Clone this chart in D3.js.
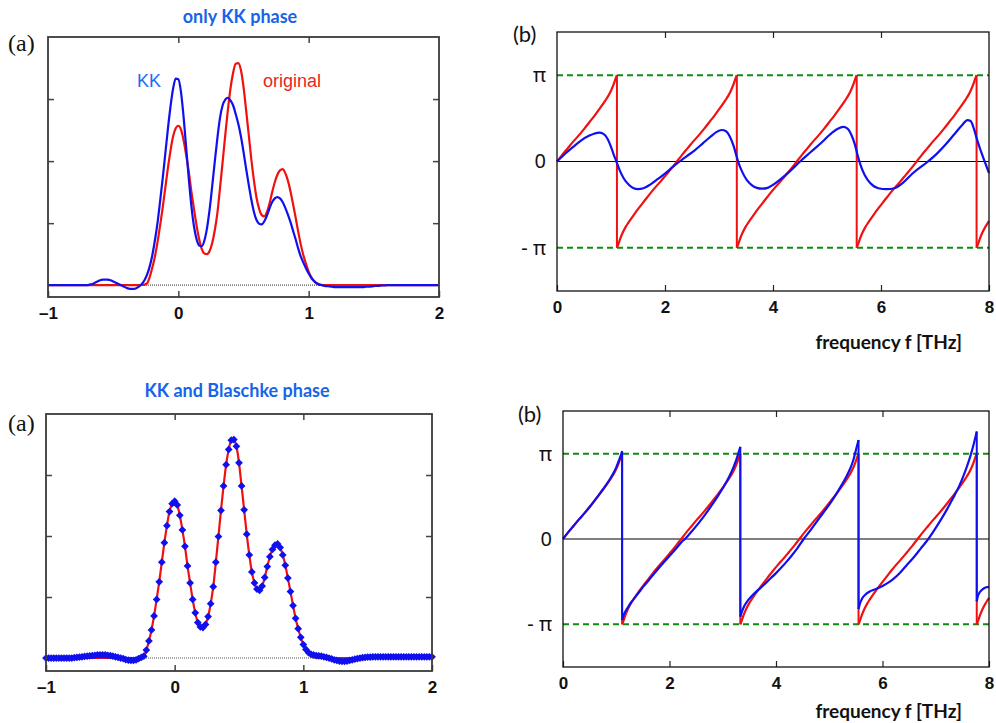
<!DOCTYPE html>
<html>
<head>
<meta charset="utf-8">
<script src="https://cdn.jsdelivr.net/npm/d3@7/dist/d3.min.js"></script>
<style>
  body { margin: 0; background: #fff; }
  svg { display: block; }
  .num text { font-family: 'Liberation Sans Narrow', 'Liberation Sans', Arial, sans-serif; font-weight: bold; font-size: 17px; fill: #111; }
  .pi text { font-family: 'Noto Sans', 'Lato', sans-serif; font-size: 20px; fill: #111; }
</style>
</head>
<body>
<svg id="chart" width="996" height="723"></svg>
<script>
// amplitude curves sampled every 0.02 from -1 to 2 (tick units, 0 = baseline)
var ampStart = -1, ampStep = 0.02;

var originalAmp = [
  0,0,0,0,0,0,0,0,0,0,0,0,0,0,0,0,0,0,0,0,0,0,0,0,0,0,0,0,0,0,0,0,0,0,0,0,
  0.005,0.01,
  0.03,0.13,0.28,0.46,0.69,0.96,1.25,1.57,1.89,2.17,2.40,2.53,2.57,2.51,2.34,2.10,1.83,1.51,1.23,0.96,
  0.74,0.58,0.51,0.50,0.55,0.68,0.89,1.17,1.57,1.99,2.42,2.82,3.17,3.42,3.57,3.58,3.47,3.20,2.82,2.43,
  2.03,1.69,1.41,1.23,1.13,1.11,1.18,1.32,1.50,1.66,1.78,1.85,1.87,1.81,1.69,1.52,1.31,1.09,0.86,0.65,
  0.48,0.34,0.22,0.13,0.07,0.035,0.015,0.005,
  0,0,0,0,0,0,0,0,0,0,0,0,0,0,0,0,0,0,0,0,0,0,0,0,0,0,0,0,0,0,0,0,0,0,0,0,0,0,0,0,0,0,0,0,0
];

var kkAmp = [
  0,0,0,0,0,0,0,0,0,0,0,0,0,0,0,0,
  0.01,0.02,0.04,0.06,0.08,0.09,0.09,0.09,0.08,0.06,0.04,0.02,0.00,-0.02,-0.04,-0.055,-0.06,-0.06,-0.045,-0.02,0.02,
  0.08,0.17,0.30,0.48,0.72,1.00,1.35,1.72,2.12,2.52,2.88,3.17,3.33,3.32,3.12,2.72,2.22,1.72,1.28,0.95,
  0.74,0.64,0.63,0.72,0.92,1.22,1.60,2.00,2.38,2.70,2.90,2.99,3.02,
  2.98,2.90,2.76,2.60,2.40,2.15,1.88,1.62,1.38,1.18,1.05,0.99,0.98,1.03,1.12,1.24,1.34,1.40,1.42,1.40,
  1.34,1.25,1.14,1.02,0.88,0.74,0.59,0.46,0.36,0.27,0.19,0.12,0.07,0.03,
  0.01,0.0,-0.01,-0.015,-0.02,-0.025,-0.03,
  -0.03,-0.03,-0.03,-0.03,-0.03,-0.03,-0.03,-0.03,-0.03,-0.03,
  -0.03,-0.025,-0.025,-0.02,-0.015,-0.01,-0.01,-0.005,-0.005,
  0,0,0,0,0,0,0,0,0,0,0,0,0,0,0,0,0,0,0,0,0
];

var blaschkeAmp = [
  0,0,0,0,0,0,0,0,0,0,0,
  0.005,0.01,0.015,0.02,0.025,0.03,0.035,0.04,0.045,0.05,0.05,0.05,0.05,0.045,0.04,0.03,0.02,0.01,0.0,
  -0.01,-0.025,-0.035,-0.04,-0.04,-0.03,-0.01,0.01,
  0.03,0.13,0.28,0.46,0.69,0.96,1.25,1.57,1.89,2.17,2.40,2.53,2.57,2.51,2.34,2.10,1.83,1.51,1.23,0.96,
  0.74,0.58,0.51,0.50,0.55,0.68,0.89,1.17,1.57,1.99,2.42,2.82,3.17,3.42,3.57,3.58,3.47,3.20,2.82,2.43,
  2.03,1.69,1.41,1.23,1.13,1.11,1.18,1.32,1.50,1.66,1.78,1.85,1.87,1.81,1.69,1.52,1.31,1.09,0.86,0.65,
  0.48,0.34,0.22,
  0.14,0.09,0.06,0.05,0.04,0.035,0.03,0.02,0.01,0.0,-0.015,-0.03,-0.04,-0.05,-0.055,-0.055,-0.05,-0.04,
  -0.03,-0.02,-0.01,0.0,0.005,0.01,0.015,0.015,
  0.02,0.02,0.02,0.02,0.02,0.02,0.02,0.02,0.02,0.02,0.02,0.02,0.02,0.02,0.02,0.02,0.02,0.02,0.02,0.02,0.02,0.02,0.02,0.02
];

// phases in units of pi, [frequency THz, phase], one sub-array per branch between wraps
var originalPhase = [
  [[0,0],[0.1,0.08],[0.2,0.155],[0.3,0.23],[0.4,0.30],[0.5,0.375],[0.6,0.455],[0.7,0.535],[0.8,0.62],[0.9,0.71],[0.95,0.76],[1.0,0.82],[1.05,0.895],[1.08,0.95],[1.11,1.0]],
  [[1.11,-1.0],[1.14,-0.95],[1.17,-0.895],[1.22,-0.82],[1.27,-0.76],[1.32,-0.71],[1.42,-0.62],[1.52,-0.535],[1.62,-0.455],[1.72,-0.375],[1.82,-0.30],[1.92,-0.23],[2.02,-0.155],[2.12,-0.08],[2.22,0],
   [2.32,0.08],[2.42,0.155],[2.52,0.23],[2.62,0.30],[2.72,0.375],[2.82,0.455],[2.92,0.535],[3.02,0.62],[3.12,0.71],[3.17,0.76],[3.22,0.82],[3.27,0.895],[3.30,0.95],[3.33,1.0]],
  [[3.33,-1.0],[3.36,-0.95],[3.39,-0.895],[3.44,-0.82],[3.49,-0.76],[3.54,-0.71],[3.64,-0.62],[3.74,-0.535],[3.84,-0.455],[3.94,-0.375],[4.04,-0.30],[4.14,-0.23],[4.24,-0.155],[4.34,-0.08],[4.44,0],
   [4.54,0.08],[4.64,0.155],[4.74,0.23],[4.84,0.30],[4.94,0.375],[5.04,0.455],[5.14,0.535],[5.24,0.62],[5.34,0.71],[5.39,0.76],[5.44,0.82],[5.49,0.895],[5.52,0.95],[5.55,1.0]],
  [[5.55,-1.0],[5.58,-0.95],[5.61,-0.895],[5.66,-0.82],[5.71,-0.76],[5.76,-0.71],[5.86,-0.62],[5.96,-0.535],[6.06,-0.455],[6.16,-0.375],[6.26,-0.30],[6.36,-0.23],[6.46,-0.155],[6.56,-0.08],[6.66,0],
   [6.76,0.08],[6.86,0.155],[6.96,0.23],[7.06,0.30],[7.16,0.375],[7.26,0.455],[7.36,0.535],[7.46,0.62],[7.56,0.71],[7.61,0.76],[7.66,0.82],[7.71,0.895],[7.74,0.95],[7.77,1.0]],
  [[7.77,-1.0],[7.80,-0.95],[7.83,-0.895],[7.88,-0.82],[7.93,-0.76],[7.98,-0.71],[8.0,-0.69]]
];

var kkPhase = [
  [[0,0],[0.15,0.09],[0.3,0.17],[0.45,0.245],[0.6,0.30],[0.7,0.325],[0.78,0.335],[0.86,0.32],[0.93,0.27],[1.0,0.17],[1.05,0.08],[1.1,0.0],[1.16,-0.1],[1.24,-0.2],[1.33,-0.27],[1.42,-0.31],
   [1.5,-0.32],[1.6,-0.31],[1.72,-0.27],[1.85,-0.21],[2.0,-0.14],[2.15,-0.06],[2.27,0.0],[2.4,0.06],[2.55,0.13],[2.7,0.21],[2.85,0.29],[2.95,0.34],[3.05,0.365],[3.13,0.35],[3.2,0.29],
   [3.27,0.18],[3.33,0.05],[3.37,-0.03],[3.43,-0.12],[3.51,-0.21],[3.6,-0.27],[3.7,-0.305],[3.8,-0.315],[3.9,-0.305],[4.0,-0.27],[4.13,-0.21],[4.3,-0.12],[4.5,0.0],[4.7,0.11],[4.9,0.22],
   [5.05,0.31],[5.2,0.38],[5.3,0.40],[5.38,0.38],[5.45,0.31],[5.52,0.19],[5.56,0.09],[5.62,-0.04],[5.7,-0.16],[5.8,-0.25],[5.95,-0.31],[6.1,-0.32],[6.25,-0.31],[6.4,-0.25],[6.6,-0.13],
   [6.87,0.0],[7.05,0.1],[7.2,0.2],[7.35,0.31],[7.5,0.42],[7.6,0.48],[7.66,0.47],[7.72,0.38],[7.78,0.25],[7.85,0.12],[7.92,0.0],[8.0,-0.135]]
];

var blaschkePhase = [
  [[0,0],[0.1,0.08],[0.2,0.155],[0.3,0.23],[0.4,0.30],[0.5,0.375],[0.6,0.455],[0.7,0.54],[0.8,0.625],[0.9,0.72],[0.95,0.775],[1.0,0.84],[1.05,0.92],[1.08,0.97],[1.11,1.03]],
  [[1.11,-0.95],[1.14,-0.89],[1.18,-0.84],[1.22,-0.80],[1.27,-0.75],[1.32,-0.71],[1.42,-0.63],[1.52,-0.55],[1.62,-0.475],[1.72,-0.40],[1.82,-0.325],[1.92,-0.255],[2.02,-0.185],[2.12,-0.115],
   [2.22,-0.04],[2.29,0.0],[2.42,0.09],[2.52,0.165],[2.62,0.245],[2.72,0.33],[2.82,0.42],[2.92,0.515],[3.02,0.615],[3.12,0.73],[3.2,0.84],[3.26,0.94],[3.3,1.02],[3.33,1.08]],
  [[3.33,-0.91],[3.36,-0.85],[3.40,-0.79],[3.45,-0.74],[3.55,-0.665],[3.65,-0.605],[3.76,-0.545],[3.9,-0.46],[4.0,-0.40],[4.1,-0.335],[4.2,-0.265],[4.3,-0.19],[4.4,-0.11],[4.52,0.0],
   [4.62,0.08],[4.72,0.165],[4.82,0.25],[4.92,0.335],[5.02,0.42],[5.14,0.535],[5.24,0.64],[5.32,0.73],[5.39,0.82],[5.45,0.92],[5.5,1.04],[5.55,1.16]],
  [[5.55,-0.82],[5.58,-0.75],[5.62,-0.695],[5.68,-0.65],[5.76,-0.615],[5.84,-0.595],[5.92,-0.575],[6.0,-0.55],[6.1,-0.515],[6.2,-0.47],[6.33,-0.395],[6.45,-0.31],[6.6,-0.205],[6.72,-0.11],
   [6.86,0.0],[7.0,0.13],[7.1,0.23],[7.2,0.335],[7.3,0.45],[7.36,0.52],[7.44,0.62],[7.52,0.74],[7.58,0.84],[7.64,0.95],[7.7,1.08],[7.74,1.18],[7.77,1.26]],
  [[7.77,-0.73],[7.79,-0.67],[7.82,-0.63],[7.86,-0.6],[7.9,-0.58],[7.95,-0.565],[8.0,-0.56]]
];

var ampXTicks = [-1, 0, 1, 2];
var ampYTicks = [1, 2, 3];
var freqTicks = [0, 2, 4, 6, 8];
var phaseTicks = [-1, 0, 1];
var phaseLabels = { '-1': '- \u03c0', '0': '0', '1': '\u03c0' };

var RED = '#f01010', BLUE = '#1010ee', GREEN = '#118a11';

var svg = d3.select('#chart');
svg.append('rect').attr('width', 996).attr('height', 723).attr('fill', '#fff');

function ampPanel(box, yMin, series, diamonds) {
  var x = d3.scaleLinear().domain([-1, 2]).range([box.left, box.right]);
  var y = d3.scaleLinear().domain([yMin, 4]).range([box.bottom, box.top]);
  var g = svg.append('g');

  g.append('line')
    .attr('x1', box.left).attr('x2', box.right)
    .attr('y1', y(0)).attr('y2', y(0))
    .attr('stroke', '#555').attr('stroke-width', 1.2).attr('stroke-dasharray', '1,1');

  var line = d3.line()
    .x(function (d, i) { return x(ampStart + i * ampStep); })
    .y(function (d) { return y(d); })
    .curve(d3.curveMonotoneX);

  series.forEach(function (s) {
    g.append('path').datum(s.values)
      .attr('d', line)
      .attr('fill', 'none').attr('stroke', s.color).attr('stroke-width', 2.2);
  });

  if (diamonds) {
    g.selectAll('.dia').data(diamonds).join('path')
      .attr('class', 'dia')
      .attr('d', d3.symbol(d3.symbolSquare, 30))
      .attr('transform', function (d, i) { return 'translate(' + x(ampStart + i * ampStep) + ',' + y(d) + ') rotate(45)'; })
      .attr('fill', BLUE);
  }

  var bottom = g.append('g').attr('class', 'num')
    .attr('transform', 'translate(0,' + box.bottom + ')')
    .call(d3.axisBottom(x).tickValues(ampXTicks).tickSizeInner(-6).tickSizeOuter(0).tickPadding(10)
      .tickFormat(function (d) { return d < 0 ? '\u2013' + Math.abs(d) : d; }));
  var top = g.append('g').attr('transform', 'translate(0,' + box.top + ')')
    .call(d3.axisTop(x).tickValues([0, 1]).tickSizeInner(-6).tickSizeOuter(0).tickFormat(''));
  var left = g.append('g').attr('transform', 'translate(' + box.left + ',0)')
    .call(d3.axisLeft(y).tickValues(ampYTicks).tickSizeInner(-6).tickSizeOuter(0).tickFormat(''));
  var right = g.append('g').attr('transform', 'translate(' + box.right + ',0)')
    .call(d3.axisRight(y).tickValues(ampYTicks).tickSizeInner(-6).tickSizeOuter(0).tickFormat(''));
  [bottom, top, left, right].forEach(function (a) {
    a.select('.domain').remove();
    a.selectAll('.tick line').attr('stroke', '#444').attr('stroke-width', 1.5);
  });

  g.append('rect')
    .attr('x', box.left).attr('y', box.top)
    .attr('width', box.right - box.left).attr('height', box.bottom - box.top)
    .attr('fill', 'none').attr('stroke', '#3a3a3a').attr('stroke-width', 1.8);
  return { x: x, y: y };
}

function phasePanel(box, series) {
  var x = d3.scaleLinear().domain([0, 8]).range([box.left, box.right]);
  var y = d3.scaleLinear().domain([-1.5, 1.5]).range([box.bottom, box.top]);
  var g = svg.append('g');

  g.append('line')
    .attr('x1', box.left).attr('x2', box.right).attr('y1', y(0)).attr('y2', y(0))
    .attr('stroke', '#000').attr('stroke-width', 1.2);
  [-1, 1].forEach(function (v) {
    g.append('line')
      .attr('x1', box.left).attr('x2', box.right).attr('y1', y(v)).attr('y2', y(v))
      .attr('stroke', GREEN).attr('stroke-width', 2).attr('stroke-dasharray', '6,4');
  });

  var branch = d3.line()
    .x(function (d) { return x(d[0]); })
    .y(function (d) { return y(d[1]); })
    .curve(d3.curveMonotoneX);
  var jump = d3.line()
    .x(function (d) { return x(d[0]); })
    .y(function (d) { return y(d[1]); });

  series.forEach(function (s) {
    s.values.forEach(function (seg, i) {
      g.append('path').datum(seg).attr('d', branch)
        .attr('fill', 'none').attr('stroke', s.color).attr('stroke-width', 2.2);
      if (i > 0) {
        var prev = s.values[i - 1];
        g.append('path').datum([prev[prev.length - 1], seg[0]]).attr('d', jump)
          .attr('fill', 'none').attr('stroke', s.color).attr('stroke-width', 2);
      }
    });
  });

  var bottom = g.append('g').attr('class', 'num')
    .attr('transform', 'translate(0,' + box.bottom + ')')
    .call(d3.axisBottom(x).tickValues(freqTicks).tickSizeInner(-6).tickSizeOuter(0).tickPadding(10));
  bottom.selectAll('text').attr('font-size', 16);
  var top = g.append('g').attr('transform', 'translate(0,' + box.top + ')')
    .call(d3.axisTop(x).tickValues([2, 4, 6]).tickSizeInner(-6).tickSizeOuter(0).tickFormat(''));
  var left = g.append('g').attr('class', 'pi').attr('transform', 'translate(' + box.left + ',0)')
    .call(d3.axisLeft(y).tickValues(phaseTicks).tickSize(0).tickPadding(11)
      .tickFormat(function (d) { return phaseLabels[d]; }));
  [bottom, top, left].forEach(function (a) {
    a.select('.domain').remove();
    a.selectAll('.tick line').attr('stroke', '#222').attr('stroke-width', 1.2);
  });

  g.append('rect')
    .attr('x', box.left).attr('y', box.top)
    .attr('width', box.right - box.left).attr('height', box.bottom - box.top)
    .attr('fill', 'none').attr('stroke', '#111').attr('stroke-width', 1.3);
  return { x: x, y: y };
}

ampPanel({ left: 48, right: 439, top: 37, bottom: 297 }, -0.19,
  [{ values: originalAmp, color: RED }, { values: kkAmp, color: BLUE }]);
ampPanel({ left: 46, right: 432, top: 414, bottom: 671 }, -0.213,
  [{ values: originalAmp, color: RED }], blaschkeAmp);

phasePanel({ left: 557, right: 989, top: 32, bottom: 291 },
  [{ values: originalPhase, color: RED }, { values: kkPhase, color: BLUE }]);
phasePanel({ left: 563, right: 989, top: 411, bottom: 667 },
  [{ values: originalPhase, color: RED }, { values: blaschkePhase, color: BLUE }]);

// titles and labels
function label(txt, x, y, opts) {
  var t = svg.append('text').text(txt).attr('x', x).attr('y', y)
    .attr('font-family', opts.family || "'Liberation Sans', Arial, sans-serif")
    .attr('font-size', opts.size || 16)
    .attr('font-weight', opts.weight || 'normal')
    .attr('fill', opts.color || '#111')
    .attr('text-anchor', opts.anchor || 'start');
  return t;
}

label('only KK phase', 240, 23, { family: "Lato, 'Open Sans', sans-serif", size: 18, weight: 'bold', color: '#1764e8', anchor: 'middle' });
label('KK and Blaschke phase', 237, 397, { family: "Lato, 'Open Sans', sans-serif", size: 18, weight: 'bold', color: '#1764e8', anchor: 'middle' });
label('KK', 137, 87, { size: 18, color: '#1a6cf5' });
label('original', 263, 87, { size: 18, color: '#e8261c' });
label('(a)', 8, 51, { family: "'Liberation Serif', 'DejaVu Serif', serif", size: 24 });
label('(a)', 8, 431, { family: "'Liberation Serif', 'DejaVu Serif', serif", size: 24 });
label('(b)', 513, 42, { family: "Lato, 'Noto Sans', sans-serif", size: 22 });
label('(b)', 518, 422, { family: "Lato, 'Noto Sans', sans-serif", size: 22 });
label('frequency f [THz]', 962, 349, { family: "Lato, 'Open Sans', sans-serif", size: 19, weight: 'bold', anchor: 'end' });
label('frequency f [THz]', 962, 718, { family: "Lato, 'Open Sans', sans-serif", size: 19, weight: 'bold', anchor: 'end' });
</script>
</body>
</html>
